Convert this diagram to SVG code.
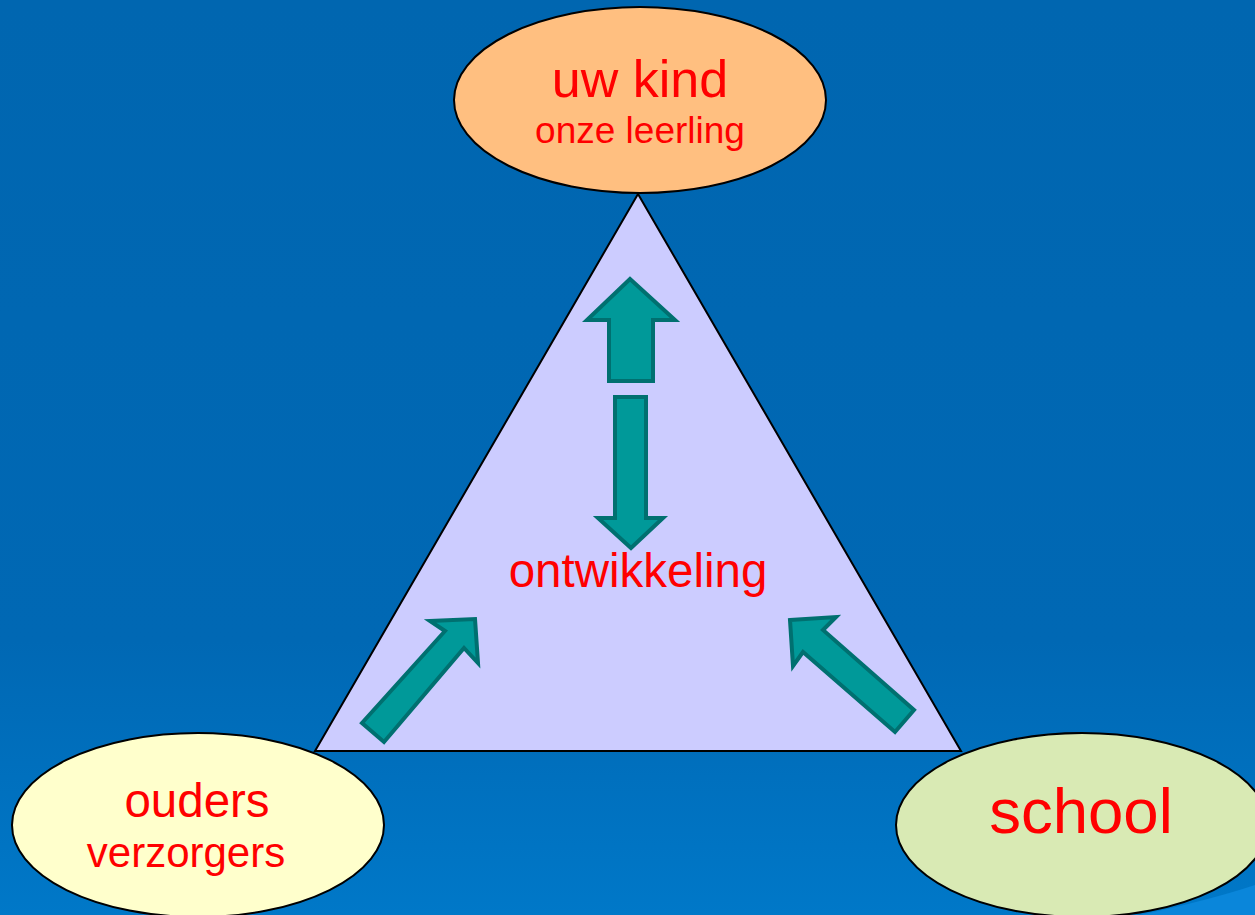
<svg xmlns="http://www.w3.org/2000/svg" width="1255" height="915" viewBox="0 0 1255 915">
<defs>
<linearGradient id="bg" x1="0" y1="0" x2="0" y2="1">
<stop offset="0" stop-color="#0066B0"/>
<stop offset="0.7" stop-color="#0068B4"/>
<stop offset="1" stop-color="#0078C8"/>
</linearGradient>
</defs>
<style>
.node{stroke:#000;stroke-width:2}
.lbl{font-family:"Liberation Sans",Arial,sans-serif;fill:#FF0000;text-anchor:middle}
.arrow{fill:#009999;stroke:#007070;stroke-width:4;stroke-linejoin:miter}
</style>
<rect x="0" y="0" width="1255" height="915" fill="url(#bg)"/>
<path d="M1140 915 Q1210 900 1255 885 L1255 915 Z" fill="#0A86DA"/>
<g id="triangle">
<polygon class="node" points="638,194 315,751 961,751" fill="#CCCCFF" stroke-width="2"/>
<text class="lbl" x="638" y="587" font-size="47.5">ontwikkeling</text>
</g>
<g id="connectors">
<path class="arrow" d="M630,279 L675,320 L653,320 L653,381 L609,381 L609,320 L587,320 Z"/>
<path class="arrow" d="M615,397 L646,397 L646,518 L663,518 L631,548 L598,518 L615,518 Z"/>
<path class="arrow" d="M475,619 L478,663 L464,648 L384,742 L362,723 L445,631 L430,621 Z"/>
<path class="arrow" d="M790,620 L836,617 L823,630 L914,710 L895,732 L803,652 L793,666 Z"/>
</g>
<g id="node-kind">
<ellipse class="node" cx="640" cy="100" rx="186" ry="93" fill="#FFBF80"/>
<text class="lbl" x="640" y="97" font-size="52">uw kind</text>
<text class="lbl" x="640" y="143" font-size="37">onze leerling</text>
</g>
<g id="node-ouders">
<ellipse class="node" cx="198" cy="825" rx="186" ry="92" fill="#FFFFCC"/>
<text class="lbl" x="197" y="817" font-size="47.5">ouders</text>
<text class="lbl" x="186" y="867" font-size="42">verzorgers</text>
</g>
<g id="node-school">
<ellipse class="node" cx="1082" cy="825" rx="186" ry="92" fill="#D9EAB4"/>
<text class="lbl" x="1081" y="833" font-size="63.5">school</text>
</g>
</svg>
